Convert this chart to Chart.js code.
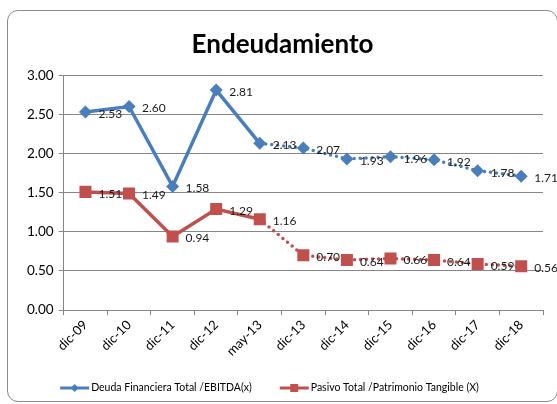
<!DOCTYPE html>
<html>
<head>
<meta charset="utf-8">
<script src="https://cdn.jsdelivr.net/npm/chart.js@4"></script>
<style>
html,body{margin:0;padding:0;background:#fff;}
#wrap{position:relative;width:557px;height:404px;overflow:hidden;}
#frame{position:absolute;left:7px;top:10px;width:551px;height:392px;border:1.5px solid #8c8c8c;border-radius:11px;box-sizing:border-box;pointer-events:none;}
canvas{position:absolute;left:0;top:0;}
</style>
</head>
<body>
<div id="wrap">
<div id="frame"></div>
<canvas id="c" width="557" height="404"></canvas>
</div>
<script>
const categories = ["dic-09","dic-10","dic-11","dic-12","may-13","dic-13","dic-14","dic-15","dic-16","dic-17","dic-18"];
const deudaEbitda = [2.53,2.60,1.58,2.81,2.13,2.07,1.93,1.96,1.92,1.78,1.71];
const pasivoPatrimonio = [1.51,1.49,0.94,1.29,1.16,0.70,0.64,0.66,0.64,0.59,0.56];
const seriesNames = ["Deuda Financiera Total /EBITDA(x)","Pasivo Total /Patrimonio Tangible (X)"];
const yTicks = [0,0.5,1,1.5,2,2.5,3];
const titleText = "Endeudamiento";

const BLUE = "#4a7ebb";
const RED = "#c0504d";
const FONT = "Lato, 'Liberation Sans', sans-serif";
const solidUntil = 4;

const dataLabels = {
  id: 'dataLabels',
  afterDatasetsDraw(chart){
    const ctx = chart.ctx;
    ctx.save();
    ctx.font = "12px " + FONT;
    ctx.fillStyle = "#1a1a1a";
    ctx.textAlign = "left";
    ctx.textBaseline = "middle";
    chart.data.datasets.forEach((ds,i)=>{
      const meta = chart.getDatasetMeta(i);
      meta.data.forEach((pt,j)=>{
        ctx.fillText(ds.data[j].toFixed(2), pt.x + 13, pt.y + 2);
      });
    });
    ctx.restore();
  }
};

const bottomLegend = {
  id: 'bottomLegend',
  afterDraw(chart){
    const ctx = chart.ctx;
    ctx.save();
    ctx.font = "10.5px " + FONT;
    ctx.textBaseline = "middle";
    ctx.textAlign = "left";
    const iconW = 29, iconGap = 2, itemGap = 28;
    const items = chart.data.datasets.map((ds,i)=>({ds, i, tw: ctx.measureText(ds.label).width}));
    const total = items.reduce((s,it)=>s + iconW + iconGap + it.tw, 0) + itemGap*(items.length-1);
    let x = chart.width/2 - 9 - total/2;
    const y = 388;
    items.forEach(it=>{
      const c = it.ds.borderColor;
      ctx.strokeStyle = c; ctx.fillStyle = c; ctx.lineWidth = 3;
      ctx.beginPath(); ctx.moveTo(x, y); ctx.lineTo(x+iconW, y); ctx.stroke();
      const cx = x + iconW/2;
      if (it.i === 0){
        ctx.beginPath(); ctx.moveTo(cx, y-4); ctx.lineTo(cx+4, y); ctx.lineTo(cx, y+4); ctx.lineTo(cx-4, y); ctx.closePath(); ctx.fill();
      } else {
        ctx.fillRect(cx-4, y-4, 8, 8);
      }
      ctx.fillStyle = '#000';
      ctx.fillText(it.ds.label, x + iconW + iconGap, y);
      x += iconW + iconGap + it.tw + itemGap;
    });
    ctx.restore();
  }
};

const dotted = (ctx) => ctx.p0DataIndex >= solidUntil ? [0, 6] : undefined;
const cap = (ctx) => ctx.p0DataIndex >= solidUntil ? 'round' : 'butt';

new Chart(document.getElementById('c'), {
  type: 'line',
  data: {
    labels: categories,
    datasets: [
      {
        label: seriesNames[0], data: deudaEbitda,
        borderColor: BLUE, backgroundColor: BLUE, borderWidth: 3.5,
        pointStyle: 'rectRot', pointRadius: 6.5, pointHoverRadius: 6.5,
        pointBackgroundColor: BLUE, pointBorderColor: BLUE, pointBorderWidth: 0,
        tension: 0,
        segment: { borderDash: dotted, borderCapStyle: cap }
      },
      {
        label: seriesNames[1], data: pasivoPatrimonio,
        borderColor: RED, backgroundColor: RED, borderWidth: 3.5,
        pointStyle: 'rect', pointRadius: 8.5, pointHoverRadius: 8.5,
        pointBackgroundColor: RED, pointBorderColor: RED, pointBorderWidth: 0,
        tension: 0,
        segment: { borderDash: dotted, borderCapStyle: cap }
      }
    ]
  },
  options: {
    responsive: false,
    animation: false,
    devicePixelRatio: 1,
    layout: { padding: { left: 22, right: 14, top: 29, bottom: 43 } },
    plugins: {
      title: {
        display: true, text: titleText, color: '#000',
        font: { family: FONT, size: 26, weight: 'bold' },
        padding: { top: 0, bottom: 15 }
      },
      legend: { display: false },
      tooltip: { enabled: false }
    },
    scales: {
      x: {
        offset: true,
        grid: { offset: true, drawOnChartArea: false, drawTicks: true, tickLength: 5, color: '#868686' },
        border: { color: '#868686', width: 1 },
        ticks: { color: '#000', font: { family: FONT, size: 13 }, maxRotation: 45, minRotation: 45, padding: 2 }
      },
      y: {
        min: 0, max: 3,
        afterBuildTicks(axis){ axis.ticks = yTicks.map(v=>({value:v})); },
        grid: { color: '#868686', tickLength: 5 },
        border: { color: '#868686', width: 1 },
        ticks: { color: '#000', font: { family: FONT, size: 13.5 }, padding: 5, callback: v => Number(v).toFixed(2) }
      }
    }
  },
  plugins: [dataLabels, bottomLegend]
});
</script>
</body>
</html>
